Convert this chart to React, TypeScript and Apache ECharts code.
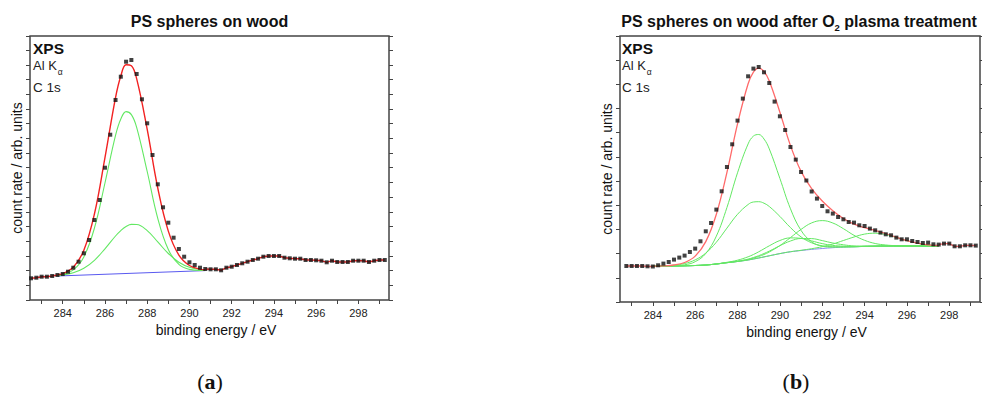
import React, { useEffect, useRef } from 'react';
import * as echarts from 'echarts';

// ---------- Panel (a): PS spheres on wood ----------
const energyA = [282.5, 282.75, 283, 283.25, 283.5, 283.75, 284, 284.25, 284.5, 284.75, 285, 285.25, 285.5, 285.75, 286, 286.25, 286.5, 286.75, 287, 287.25, 287.5, 287.75, 288, 288.25, 288.5, 288.75, 289, 289.25, 289.5, 289.75, 290, 290.25, 290.5, 290.75, 291, 291.25, 291.5, 291.75, 292, 292.25, 292.5, 292.75, 293, 293.25, 293.5, 293.75, 294, 294.25, 294.5, 294.75, 295, 295.25, 295.5, 295.75, 296, 296.25, 296.5, 296.75, 297, 297.25, 297.5, 297.75, 298, 298.25, 298.5, 298.75, 299, 299.25];
const countsA = [21.7, 22.3, 23.3, 23.3, 24, 25, 26, 28.3, 32.3, 38.3, 46.7, 60, 80, 100, 132.3, 165.3, 200, 223.3, 238.3, 240, 226, 200.7, 176.7, 145, 115.7, 92.7, 77.3, 62.3, 51, 43.3, 37.7, 35, 32.3, 31, 30.7, 30.7, 29.7, 32.3, 33.3, 35, 36.7, 38.3, 40, 41.3, 43.3, 44, 44, 44, 42.3, 41.7, 41.3, 41.3, 40, 40, 39.7, 39.3, 37.7, 39.3, 38, 38, 38, 39.3, 39.3, 39.3, 38, 39.3, 40, 40];
const modelEnergyA = [283.75, 284, 284.5, 285, 285.5, 286, 286.5, 286.75, 287, 287.25, 287.5, 288, 288.5, 289, 289.5, 290, 290.5, 290.75];
const envelopeA = [25.1, 26.4, 32.7, 49.8, 86, 142.4, 202.4, 224, 235.3, 234.2, 221.3, 170.6, 112, 68.9, 44.9, 34.5, 30.9, 30.3];
const peak1A = [24.6, 25.5, 30.1, 43.1, 71.8, 117, 164.6, 181, 188.4, 185.4, 172.7, 128.5, 81.7, 50.5, 35.6, 30.6, 29.5, 29.5];
const peak2A = [24.5, 25.1, 27.2, 31.7, 39.7, 51.2, 64, 69.4, 73.5, 75.6, 75.5, 69.4, 58.1, 46.5, 37.8, 32.7, 30.6, 30.2];
const backgroundEnergyA = [283.75, 290.75];
const backgroundA = [24.0, 29.4];

// ---------- Panel (b): after O2 plasma treatment ----------
const energyB = [282.75, 283, 283.25, 283.5, 283.75, 284, 284.25, 284.5, 284.75, 285, 285.25, 285.5, 285.75, 286, 286.25, 286.5, 286.75, 287, 287.25, 287.5, 287.75, 288, 288.25, 288.5, 288.75, 289, 289.25, 289.5, 289.75, 290, 290.25, 290.5, 290.75, 291, 291.25, 291.5, 291.75, 292, 292.25, 292.5, 292.75, 293, 293.25, 293.5, 293.75, 294, 294.25, 294.5, 294.75, 295, 295.25, 295.5, 295.75, 296, 296.25, 296.5, 296.75, 297, 297.25, 297.5, 297.75, 298, 298.25, 298.5, 298.75, 299, 299.25];
const countsB = [36, 36, 36, 36, 35.7, 35.5, 36.7, 38.4, 40, 42.4, 44.4, 46.4, 50, 53.4, 60.7, 70.7, 79, 92.4, 110.7, 135, 157.7, 181.4, 203.4, 225.7, 233.4, 235, 229.7, 219, 200.4, 185.7, 172, 155, 142.4, 130, 121.5, 110.5, 103.4, 96, 90.7, 88.4, 85, 82.7, 80, 79.4, 76.7, 76, 73.4, 71.7, 69.4, 67.7, 66.7, 64.4, 62.7, 62.7, 61, 60, 59, 59.4, 57.7, 57.4, 58.4, 58.4, 55.7, 55.7, 56.7, 56.7, 56.4];
const modelEnergyB = [284, 284.5, 285, 285.5, 286, 286.5, 287, 287.5, 288, 288.5, 288.75, 289, 289.25, 289.5, 290, 290.5, 291, 291.5, 292, 292.5, 293, 293.5, 294, 294.5, 295, 295.5, 296, 296.5, 297, 297.5];
const envelopeB = [35.8, 36.1, 37, 39.5, 45.9, 60.4, 87.8, 129.6, 178.1, 218.2, 229.8, 233.8, 230.6, 220.9, 189.8, 156.4, 130.6, 113.3, 101, 91.3, 83.5, 77.8, 74.4, 71.6, 68.5, 64.8, 61.4, 58.8, 57.2, 56.5];
const backgroundB = [35.7, 35.9, 36, 36.2, 36.5, 37, 38, 39.3, 40.5, 42, 43, 44, 45.1, 46.2, 48.4, 50.2, 51.5, 52.6, 53.5, 54.3, 54.9, 55.2, 55.6, 55.8, 56, 56, 56, 56, 56, 56];
const peak1B = [35.7, 35.9, 36.2, 37.2, 40.3, 48.5, 65.9, 94.5, 129.2, 158.1, 165.9, 167.5, 163, 153.1, 123.6, 93.2, 71.6, 60.2, 55.8, 54.9, 55, 55.2, 55.6, 55.8, 56, 56, 56, 56, 56, 56];
const peak2B = [35.8, 36.1, 36.8, 38.5, 42.1, 48.9, 59.8, 73.9, 87.7, 97.5, 100, 100.3, 98.8, 95.5, 85.6, 74.4, 65.1, 59.2, 56.2, 55.3, 55.2, 55.3, 55.6, 55.8, 56, 56, 56, 56, 56, 56];
const peak3B = [35.7, 35.9, 36, 36.2, 36.5, 37, 38.1, 39.7, 41.8, 45.2, 47.5, 50.2, 53.2, 56.2, 61.5, 64.1, 63.6, 61.1, 58.4, 56.6, 55.8, 55.5, 55.7, 55.8, 56, 56, 56, 56, 56, 56];
const peak4B = [35.7, 35.9, 36, 36.2, 36.5, 37, 38, 39.4, 40.8, 42.9, 44.5, 46.3, 48.5, 50.9, 56.3, 61, 63.5, 63.4, 61.4, 59, 57.2, 56.1, 55.9, 55.9, 56, 56, 56, 56, 56, 56];
const peak5B = [35.7, 35.9, 36, 36.2, 36.5, 37, 38, 39.3, 40.6, 42.5, 43.9, 45.5, 47.5, 50, 56.4, 64.4, 72.6, 79.1, 81.4, 79, 73.3, 66.7, 61.7, 58.5, 57, 56.3, 56.1, 56, 56, 56];
const peak6B = [35.7, 35.9, 36, 36.2, 36.5, 37, 38, 39.3, 40.5, 42, 43, 44, 45.1, 46.2, 48.4, 50.3, 51.7, 53.3, 55.3, 58, 61.5, 65, 67.9, 68.8, 67.5, 64.5, 61.3, 58.8, 57.2, 56.5];

// ---------- Axes ----------
const xTickLabels = [284, 286, 288, 290, 292, 294, 296, 298];
const xTicks = [283, 284, 285, 286, 287, 288, 289, 290, 291, 292, 293, 294, 295, 296, 297, 298, 299];

const FONT = '"Liberation Sans", Arial, Helvetica, sans-serif';
const SERIF = '"Liberation Serif", "DejaVu Serif", "Times New Roman", serif';
const AXIS_COLOR = '#444';

const zip = (xs: number[], ys: number[]) => xs.map((x, i) => [x, ys[i]]);
const pick = (xs: number[], ys: number[], keep: (x: number) => boolean) =>
  xs.map((x, i) => [x, ys[i]]).filter((p) => keep(p[0]));

function lineSeries(data: number[][], color: string, width: number, panel: number, z: number, smooth: boolean | number) {
  return {
    type: 'line',
    xAxisIndex: panel,
    yAxisIndex: panel * 2,
    data,
    symbol: 'none',
    showSymbol: false,
    smooth,
    silent: true,
    lineStyle: { color, width },
    itemStyle: { color },
    z,
  };
}

function scatterSeries(data: number[][], panel: number) {
  return {
    type: 'scatter',
    xAxisIndex: panel,
    yAxisIndex: panel * 2,
    data,
    symbol: 'rect',
    symbolSize: 4,
    silent: true,
    itemStyle: { color: '#111' },
    z: 10,
  };
}

function xAxisFor(grid: number) {
  return {
    type: 'value',
    gridIndex: grid,
    position: 'bottom',
    min: 282.45,
    max: 299.45,
    axisLine: { show: false },
    axisTick: { show: true, inside: false, length: 4, customValues: xTicks, lineStyle: { color: AXIS_COLOR, width: 1 } },
    axisLabel: { show: true, customValues: xTickLabels, margin: 7, fontSize: 11, color: '#222', fontFamily: FONT },
    splitLine: { show: false },
    name: 'binding energy / eV',
    nameLocation: 'middle',
    nameGap: 18,
    nameTextStyle: { fontSize: 14, color: '#111', fontFamily: FONT, padding: [0, 0, 0, 13] },
  };
}

function yAxisFor(grid: number, position: string, max: number, interval: number, withName: boolean) {
  return {
    type: 'value',
    gridIndex: grid,
    position,
    min: 0,
    max,
    interval,
    axisLine: { show: false },
    axisTick: { show: true, inside: false, length: 4, lineStyle: { color: AXIS_COLOR, width: 1 } },
    axisLabel: { show: false },
    splitLine: { show: false },
    name: withName ? 'count rate / arb. units' : '',
    nameLocation: 'middle',
    nameRotate: 90,
    nameGap: 6,
    nameTextStyle: { fontSize: 14, color: '#111', fontFamily: FONT },
  };
}

function panelLabels(x: number) {
  return [
    { type: 'text', x, y: 40, silent: true, style: { text: 'XPS', font: `bold 15.5px ${FONT}`, fill: '#111' } },
    {
      type: 'text', x, y: 59, silent: true,
      style: {
        text: '{n|Al K}{s|α}',
        fill: '#222',
        rich: {
          n: { fontSize: 13, fontFamily: FONT, lineHeight: 16, verticalAlign: 'top', fill: '#222' },
          s: { fontSize: 8.5, fontFamily: FONT, lineHeight: 9, verticalAlign: 'top', padding: [8, 0, 0, 1], fill: '#222' },
        },
      },
    },
    { type: 'text', x, y: 80, silent: true, style: { text: 'C 1s', font: `13.5px ${FONT}`, fill: '#222' } },
  ];
}

function panelTag(x: number, letter: string) {
  return {
    type: 'text', x, y: 370, silent: true,
    style: {
      text: `{p|(}{l|${letter}}{p|)}`, align: 'center', verticalAlign: 'top',
      rich: {
        p: { fontSize: 22, fontFamily: SERIF, fill: '#111' },
        l: { fontSize: 22, fontFamily: SERIF, fontWeight: 'bold', fill: '#111' },
      },
    },
  };
}

export default function App() {
  const ref = useRef<HTMLDivElement>(null);

  useEffect(() => {
    if (!ref.current) return;
    const chart = echarts.init(ref.current, undefined, { renderer: 'svg' });

    const green = '#63e863';
    const option: any = {
      animation: false,
      backgroundColor: '#fff',
      grid: [
        { left: 30, top: 36, width: 359, height: 264, show: true, borderColor: AXIS_COLOR, borderWidth: 1.5, backgroundColor: 'transparent' },
        { left: 620, top: 36, width: 360, height: 266, show: true, borderColor: AXIS_COLOR, borderWidth: 1.5, backgroundColor: 'transparent' },
      ],
      xAxis: [xAxisFor(0), xAxisFor(1)],
      yAxis: [
        yAxisFor(0, 'left', 264, 14.7, true),
        yAxisFor(0, 'right', 264, 14.7, false),
        yAxisFor(1, 'left', 266, 24.2, true),
        yAxisFor(1, 'right', 266, 24.2, false),
      ],
      graphic: [
        {
          type: 'text', x: 209.5, y: 13, silent: true,
          style: { text: 'PS spheres on wood', font: `bold 16px ${FONT}`, fill: '#111', align: 'center', verticalAlign: 'top' },
        },
        {
          type: 'text', x: 799, y: 13, silent: true,
          style: {
            text: '{b|PS spheres on wood after O}{s|2}{b| plasma treatment}',
            align: 'center',
            verticalAlign: 'top',
            rich: {
              b: { fontSize: 16, fontWeight: 'bold', fontFamily: FONT, lineHeight: 18, verticalAlign: 'top', fill: '#111' },
              s: { fontSize: 9.5, fontWeight: 'bold', fontFamily: FONT, lineHeight: 10, verticalAlign: 'top', padding: [9, 0, 0, 0], fill: '#111' },
            },
          },
        },
        ...panelLabels(33),
        ...panelLabels(622),
        panelTag(210, 'a'),
        panelTag(796, 'b'),
      ],
      series: [
        // panel (a)
        lineSeries(zip(backgroundEnergyA, backgroundA), '#5a5af0', 1, 0, 1, false),
        lineSeries(zip(modelEnergyA, peak1A), green, 1.1, 0, 2, 0.4),
        lineSeries(zip(modelEnergyA, peak2A), green, 1.1, 0, 2, 0.4),
        lineSeries(zip(modelEnergyA, envelopeA), '#f22222', 1.4, 0, 3, 0.4),
        lineSeries(pick(energyA, countsA, (x) => x <= 283.75), '#f22222', 1.4, 0, 3, false),
        lineSeries(pick(energyA, countsA, (x) => x >= 290.75), '#f22222', 1.4, 0, 3, false),
        scatterSeries(zip(energyA, countsA), 0),
        // panel (b)
        lineSeries(zip(modelEnergyB, backgroundB), '#8a8af0', 1, 1, 1, 0.4),
        lineSeries(zip(modelEnergyB, peak1B), green, 1, 1, 2, 0.4),
        lineSeries(zip(modelEnergyB, peak2B), green, 1, 1, 2, 0.4),
        lineSeries(zip(modelEnergyB, peak3B), green, 1, 1, 2, 0.4),
        lineSeries(zip(modelEnergyB, peak4B), green, 1, 1, 2, 0.4),
        lineSeries(zip(modelEnergyB, peak5B), green, 1, 1, 2, 0.4),
        lineSeries(zip(modelEnergyB, peak6B), green, 1, 1, 2, 0.4),
        lineSeries(zip(modelEnergyB, envelopeB), '#ff6a6a', 1.3, 1, 3, 0.4),
        lineSeries(pick(energyB, countsB, (x) => x <= 284), '#ff6a6a', 1.3, 1, 3, false),
        lineSeries(pick(energyB, countsB, (x) => x >= 297.5), '#ff6a6a', 1.3, 1, 3, false),
        scatterSeries(zip(energyB, countsB), 1),
      ],
    };

    chart.setOption(option);
    return () => chart.dispose();
  }, []);

  return (
    <div
      ref={ref}
      style={{ position: 'fixed', left: 0, top: 0, width: 982, height: 398, background: '#fff' }}
    />
  );
}
